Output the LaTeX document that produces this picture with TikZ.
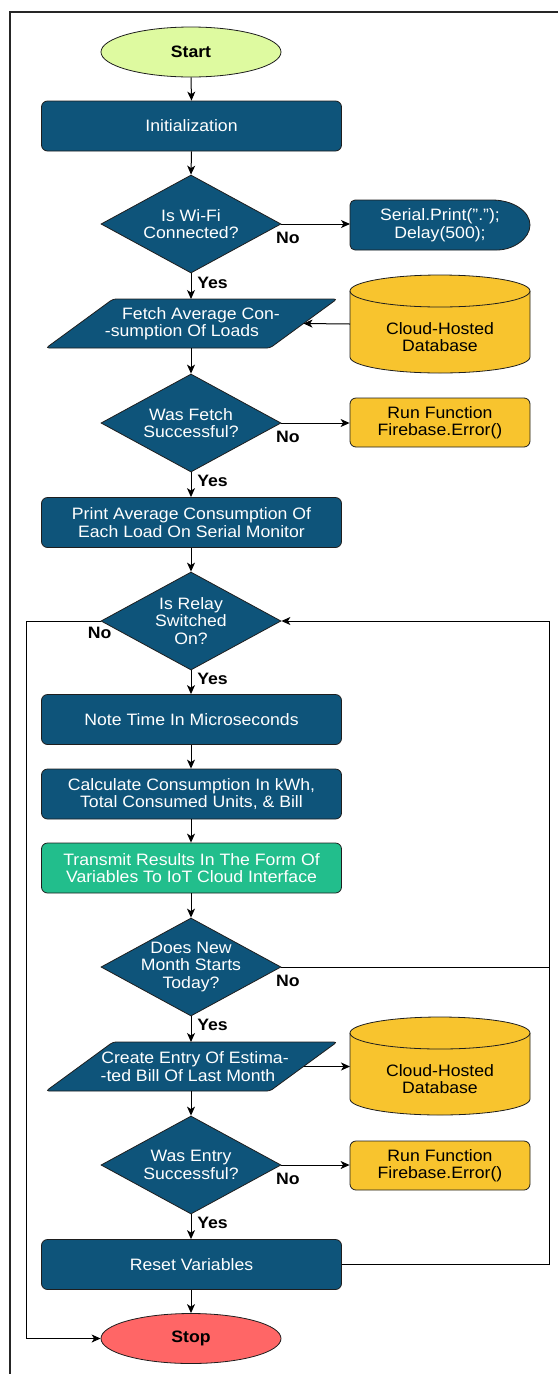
\documentclass[tikz,border=0pt]{standalone}
\usepackage{fontspec}
\setmainfont{Liberation Sans}[FakeStretch=1.07]
\usetikzlibrary{shapes.geometric,arrows.meta,backgrounds}
\definecolor{fcblue}{RGB}{14,84,122}
\definecolor{fcyellow}{RGB}{248,196,46}
\definecolor{fcgreen}{RGB}{34,190,140}
\definecolor{fcstart}{RGB}{222,250,160}
\definecolor{fcstop}{RGB}{255,102,102}
\definecolor{fcedge}{RGB}{30,30,30}
\tikzset{
  base/.style={font=\fontsize{16.5}{17.5}\selectfont, align=center, inner sep=0pt},
  bluebox/.style={base, rectangle, rounded corners=6pt, draw=fcedge, fill=fcblue, text=white, line width=0.8pt, minimum width=300pt, minimum height=50pt},
  greenbox/.style={bluebox, fill=fcgreen},
  yellowbox/.style={base, rectangle, rounded corners=6pt, draw=fcedge, fill=fcyellow, text=black, line width=0.8pt, minimum width=180pt, minimum height=49pt},
  dia/.style={diamond, draw=fcedge, fill=fcblue, line width=0.8pt, minimum width=180pt, minimum height=98pt, inner sep=0pt},
  whitetext/.style={base, text=white},
  blacktext/.style={base, text=black},
  term/.style={base, ellipse, draw=fcedge, line width=0.8pt, minimum width=180pt, minimum height=50pt, font=\fontsize{16.5}{17.5}\selectfont\bfseries},
  holder/.style={base, rectangle, outer sep=0pt, minimum width=#1},
  shapefill/.style={draw=fcedge, line width=0.8pt},
  arr/.style={draw=black, line width=1pt, -{Stealth[length=9pt,width=8pt,inset=2.5pt]}},
  conn/.style={draw=black, line width=1pt},
  lbl/.style={font=\fontsize{16.5}{17.5}\selectfont\bfseries, inner sep=0pt},
}
\begin{document}
\begin{tikzpicture}[x=1pt,y=-1pt]
\useasboundingbox (0,0) rectangle (558,1374);
\draw[line width=1.3pt, draw=black!85] (10,1374) -- (10,12) -- (558,12);

\coordinate (lx) at (26,0);
\coordinate (rx) at (549,0);

% nodes
\node[term, fill=fcstart] (start) at (191,52) {Start};
\node[bluebox] (init) at (191.5,126) {Initialization};
\node[dia] (wifi) at (191,224) {};
\node[whitetext] at (wifi) {Is Wi-Fi\\Connected?};
\node[holder=180pt, minimum height=50pt, text=white] (serial) at (440,225) {Serial.Print(".");\\Delay(500);};

\node[holder=224pt, minimum height=49pt, text=white] (fetch) at (191.5,323.5) {\hspace*{19pt}Fetch Average Con-\\-sumption Of Loads\hspace*{19pt}};
\node[holder=180pt, minimum height=98pt] (db1) at (440,324) {};
\node[blacktext] at ([yshift=-13pt]db1.center) {Cloud-Hosted\\Database};

\node[dia] (wasfetch) at (191,423) {};
\node[whitetext] at (wasfetch) {Was Fetch\\Successful?};
\node[yellowbox] (run1) at (440,422.5) {Run Function\\Firebase.Error()};

\node[bluebox] (print) at (191.5,522.5) {Print Average Consumption Of\\Each Load On Serial Monitor};
\node[dia] (relay) at (191,621) {};
\node[whitetext] at (relay) {Is Relay\\Switched\\On?};
\node[bluebox] (note) at (191.5,719.5) {Note Time In Microseconds};
\node[bluebox] (calc) at (191.5,794) {Calculate Consumption In kWh,\\Total Consumed Units, \& Bill};
\node[greenbox] (trans) at (191.5,868) {Transmit Results In The Form Of\\Variables To IoT Cloud Interface};
\node[dia] (month) at (191,967) {};
\node[whitetext] at (month) {Does New\\Month Starts\\Today?};

\node[holder=224pt, minimum height=49pt, text=white] (create) at (191.5,1066.5) {\hspace*{7pt}Create Entry Of Estima-\\-ted Bill Of Last Month\hspace*{7pt}};
\node[holder=180pt, minimum height=98pt] (db2) at (440,1066) {};
\node[blacktext] at ([yshift=-13pt]db2.center) {Cloud-Hosted\\Database};

\node[dia] (wasentry) at (191,1165) {};
\node[whitetext] at (wasentry) {Was Entry\\Successful?};
\node[yellowbox] (run2) at (440,1165.5) {Run Function\\Firebase.Error()};
\node[bluebox] (reset) at (191.5,1264.5) {Reset Variables};
\node[term, fill=fcstop] (stop) at (191,1338.5) {Stop};

% custom shapes behind text
\begin{scope}[on background layer]
  \draw[shapefill, fill=fcblue] ([xshift=-38pt]serial.north east) [rounded corners=5pt] -- (serial.north west) -- (serial.south west) -- ([xshift=-38pt]serial.south east) [sharp corners] arc[start angle=-90,end angle=90,x radius=38pt,y radius=25pt] -- cycle;
  \draw[shapefill, fill=fcblue, rounded corners=3pt] ([xshift=33.5pt]fetch.north west) -- ([xshift=33.5pt]fetch.north east) -- ([xshift=-33.5pt]fetch.south east) -- ([xshift=-33.5pt]fetch.south west) -- cycle;
  \draw[shapefill, fill=fcblue, rounded corners=3pt] ([xshift=33.5pt]create.north west) -- ([xshift=33.5pt]create.north east) -- ([xshift=-33.5pt]create.south east) -- ([xshift=-33.5pt]create.south west) -- cycle;
  \foreach \d in {db1,db2}{
    \draw[shapefill, fill=fcyellow] ([yshift=-16pt]\d.north west) -- ([yshift=16pt]\d.south west) arc[start angle=180,end angle=360,x radius=90pt,y radius=16pt] -- ([yshift=-16pt]\d.north east) arc[start angle=0,end angle=180,x radius=90pt,y radius=16pt] -- cycle;
    \draw[shapefill] ([yshift=-16pt]\d.north west) arc[start angle=180,end angle=360,x radius=90pt,y radius=16pt];
  }
\end{scope}

% connectors
\draw[arr] (start.south) -- (init.north);
\draw[arr] (init.south) -- (wifi.north);
\draw[arr] (wifi.east) -- (wifi.east -| serial.west);
\draw[arr] (wifi.south) -- (fetch.north -| wifi.south);
\draw[arr] (db1.west) -- (fetch.east);
\draw[arr] (fetch.south -| wasfetch.north) -- (wasfetch.north);
\draw[arr] (wasfetch.east) -- (wasfetch.east -| run1.west);
\draw[arr] (wasfetch.south) -- (print.north -| wasfetch.south);
\draw[arr] (print.south -| relay.north) -- (relay.north);
\draw[arr] (relay.south) -- (note.north -| relay.south);
\draw[arr] (note.south -| relay.south) -- (calc.north -| relay.south);
\draw[arr] (calc.south -| relay.south) -- (trans.north -| relay.south);
\draw[arr] (trans.south -| month.north) -- (month.north);
\draw[arr] (month.south) -- (create.north -| month.south);
\draw[arr] (create.east) -- (create.east -| db2.west);
\draw[arr] (create.south -| wasentry.north) -- (wasentry.north);
\draw[arr] (wasentry.east) -- (wasentry.east -| run2.west);
\draw[arr] (wasentry.south) -- (reset.north -| wasentry.south);
\draw[arr] (reset.south -| stop.north) -- (stop.north);
\draw[arr] (relay.west) -- (relay.west -| lx) |- (stop.west);
\draw[arr] (reset.east) -- (reset.east -| rx) |- (relay.east);
\draw[conn] (month.east) -- (month.east -| rx);

% labels
\node[lbl] at ([xshift=6.5pt,yshift=-14pt]wifi.east) {No};
\node[lbl] at ([xshift=6.5pt,yshift=-14pt]wasfetch.east) {No};
\node[lbl] at ([xshift=6.5pt,yshift=-14pt]month.east) {No};
\node[lbl] at ([xshift=6.5pt,yshift=-14pt]wasentry.east) {No};
\node[lbl] at ([xshift=-1pt,yshift=-12pt]relay.west) {No};
\node[lbl] at ([xshift=21.5pt,yshift=-9pt]wifi.south) {Yes};
\node[lbl] at ([xshift=21.5pt,yshift=-8pt]wasfetch.south) {Yes};
\node[lbl] at ([xshift=21.5pt,yshift=-8pt]relay.south) {Yes};
\node[lbl] at ([xshift=21.5pt,yshift=-8pt]month.south) {Yes};
\node[lbl] at ([xshift=21.5pt,yshift=-8pt]wasentry.south) {Yes};
\end{tikzpicture}
\end{document}
